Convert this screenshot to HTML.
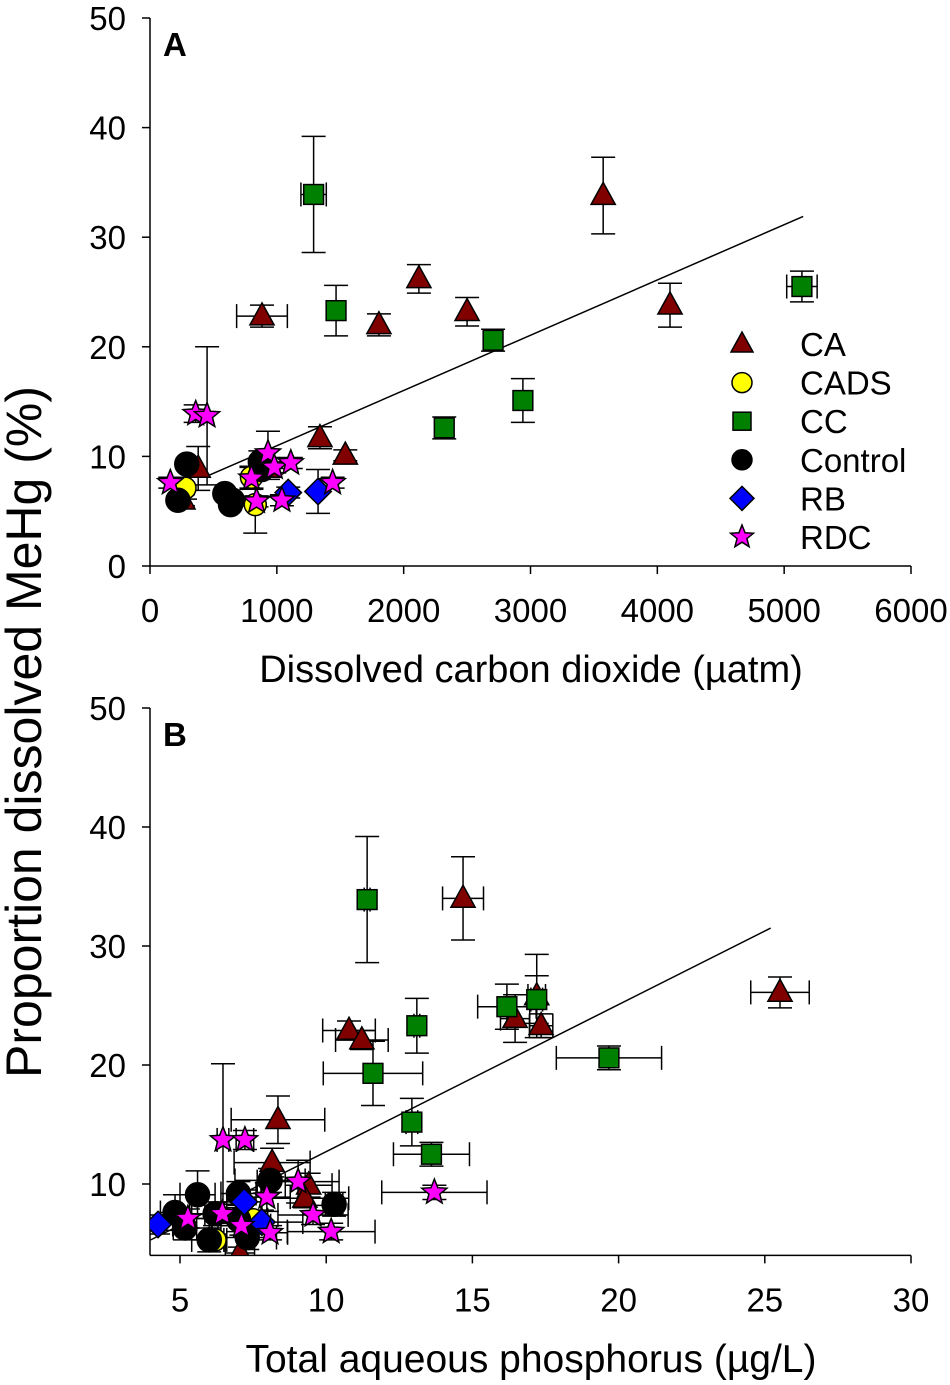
<!DOCTYPE html>
<html><head><meta charset="utf-8"><style>
html,body{margin:0;padding:0;background:#fff}
svg{display:block;font-family:"Liberation Sans",Arial,sans-serif}
</style></head><body>
<svg id="chart" width="950" height="1385" viewBox="0 0 950 1385">
<text x="28" y="732" font-size="50" text-anchor="middle" transform="rotate(-90 28 732)" dominant-baseline="middle">Proportion dissolved MeHg (%)</text>
<text x="531" y="682" font-size="38" text-anchor="middle">Dissolved carbon dioxide (µatm)</text>
<text x="531" y="1372" font-size="39" text-anchor="middle">Total aqueous phosphorus (µg/L)</text>
<text x="163" y="56" font-size="33" font-weight="bold">A</text>
<text x="163" y="746" font-size="33" font-weight="bold">B</text>
<defs><clipPath id="clipB"><rect x="150" y="700" width="762" height="555"/></clipPath></defs>
<g id="gA"></g>
<g id="gB"></g>
<g id="legend"></g>
</svg>
<script>
// Panel A data: [x, y, xerr, yerr]
const caA = [[883,22.8,200,1],[2120,26.2,0,1.3],[2500,23.2,0,1.3],[1805,22.0,0,1],[3573,33.8,0,3.5],[4100,23.8,0,2],[1340,11.7,0,1],[1540,10.1,0,0.5],[380,8.9,0,2],[260,6.0,0,0.5],[930,8.9,0,1]];
const cadsA = [[276,7.1,0,1],[800,8.1,0,1],[830,5.6,0,2.6]];
const ccA = [[1290,33.9,100,5.3],[1467,23.3,0,2.3],[2705,20.6,0,1],[2320,12.6,0,1],[2940,15.1,0,2],[5140,25.5,120,1.4]];
const ctlA = [[290,9.3,0,0],[220,6.0,0,0],[590,6.6,0,0],[650,6.0,0,0],[635,5.6,0,0],[870,9.5,0,1],[880,8.8,0,0]];
const rbA = [[1090,6.7,0,0.5],[1325,6.8,0,2]];
const rdcA = [[160,7.6,0,0.5],[360,13.9,0,0.8],[450,13.7,0,6.3],[840,5.9,0,0.5],[930,10.3,0,2],[980,9.0,0,0.5],[1040,6.0,0,0.5],[1110,9.4,0,0.5],[1440,7.6,0,0.5],[800,8.0,0,1]];
const regA = [430, 5150, 0.005042, 5.93];
const xTicksA = [0,1000,2000,3000,4000,5000,6000];
const yTicksA = [0,10,20,30,40,50];
// Panel B data
const caB = [[14.68,34.0,0.7,3.5],[25.52,26.1,1.0,1.3],[17.2,25.8,0.3,3.5],[16.46,23.9,0.5,2],[17.35,23.3,0.4,1],[10.78,22.9,0.9,0.8],[11.22,22.1,0.9,0.8],[8.35,15.4,1.6,2],[8.15,11.8,1.3,1.2],[9.4,9.9,0.8,1],[9.27,8.8,1.5,0.8],[7.05,4.2,0.5,0.5]];
const cadsB = [[6.2,5.3,0.3,0.5],[7.5,7.0,0.3,0.5]];
const ccB = [[11.4,33.9,0.1,5.3],[13.1,23.3,0.1,2.3],[16.18,24.9,1.0,1.9],[17.2,25.5,0.2,2],[11.6,19.3,1.7,2.7],[19.67,20.6,1.8,1],[12.93,15.2,0.2,2],[13.6,12.5,1.3,1]];
const ctlB = [[10.27,8.3,0.3,1],[8.08,10.3,1.2,1],[5.6,9.1,0.6,2],[4.83,7.6,0.5,1.5],[5.17,6.3,0.4,1],[6.0,5.3,0.6,1],[7.0,7.0,1.0,1],[7.0,9.2,0.6,1],[7.3,5.5,1.0,1],[6.2,7.5,0.8,1]];
const rbB = [[4.25,6.6,0.5,0.8],[7.2,8.5,0.6,1],[7.8,6.8,1.4,1]];
const rdcB = [[6.47,13.7,0.2,6.4],[7.22,13.7,0.3,0.8],[9.04,10.2,1.4,1.8],[13.7,9.3,1.8,0.6],[10.17,6.0,1.5,0.7],[9.55,7.4,1.2,0.8],[8.08,5.9,0.6,0.6],[7.97,8.9,0.8,1.2],[6.45,7.5,0.6,0.8],[5.27,7.1,0.8,0.8],[7.1,6.5,1.0,0.8]];
const regB = [4, 25.2, 1.236, 0.36];
const xTicksB = [5,10,15,20,25,30];
const yTicksB = [10,20,30,40,50];
const seriesNames = ['CA','CADS','CC','Control','RB','RDC'];

const NS='http://www.w3.org/2000/svg';
function mk(tag, attrs, parent){const e=document.createElementNS(NS,tag);for(const k in attrs)e.setAttribute(k,attrs[k]);parent.appendChild(e);return e;}
const styles={
 CA:{shape:'tri',fill:'#800000'},CADS:{shape:'circ',fill:'#ffff00'},CC:{shape:'sq',fill:'#008000'},
 Control:{shape:'circ',fill:'#000000'},RB:{shape:'dia',fill:'#0000ff'},RDC:{shape:'star',fill:'#ff00ff'}};
function marker(shape, cx, cy, s, fill, parent){
 let e;
 if(shape==='circ') e=mk('circle',{cx:cx,cy:cy,r:s*0.5},parent);
 else if(shape==='sq') e=mk('rect',{x:cx-s*0.45,y:cy-s*0.45,width:s*0.9,height:s*0.9},parent);
 else if(shape==='tri') e=mk('polygon',{points:`${cx},${cy-s*0.6} ${cx+s*0.55},${cy+s*0.4} ${cx-s*0.55},${cy+s*0.4}`},parent);
 else if(shape==='dia') e=mk('polygon',{points:`${cx},${cy-s*0.6} ${cx+s*0.6},${cy} ${cx},${cy+s*0.6} ${cx-s*0.6},${cy}`},parent);
 else { let p=[];for(let i=0;i<10;i++){const r=i%2?s*0.26:s*0.6;const a=-Math.PI/2+i*Math.PI/5;p.push((cx+r*Math.cos(a)).toFixed(1)+','+(cy+r*Math.sin(a)).toFixed(1));} e=mk('polygon',{points:p.join(' ')},parent);}
 e.setAttribute('fill',fill);e.setAttribute('stroke','#000');e.setAttribute('stroke-width','1.5');
 return e;
}
function panel(g, X, Y, x0,x1,y0,y1, xTicks,yTicks, data, reg, clip){
 mk('line',{x1:150,y1:Y(y0),x2:150,y2:Y(y1),stroke:'#000','stroke-width':1.5},g);
 mk('line',{x1:150,y1:Y(y0),x2:911,y2:Y(y0),stroke:'#000','stroke-width':1.5},g);
 xTicks.forEach(t=>{mk('line',{x1:X(t),y1:Y(y0),x2:X(t),y2:Y(y0)+8,stroke:'#000','stroke-width':1.5},g);
  const tx=mk('text',{x:X(t),y:Y(y0)+56,'font-size':33,'text-anchor':'middle'},g);tx.textContent=t;
  
  });
 yTicks.forEach(t=>{mk('line',{x1:142,y1:Y(t),x2:150,y2:Y(t),stroke:'#000','stroke-width':1.5},g);
  const tx=mk('text',{x:126,y:Y(t)+12,'font-size':33,'text-anchor':'end'},g);tx.textContent=t;
  
  });
 const pg=mk('g',{},g); if(clip) pg.setAttribute('clip-path','url(#clipB)');
 const rl=mk('line',{x1:X(reg[0]),y1:Y(reg[3]+reg[2]*reg[0]),x2:X(reg[1]),y2:Y(reg[3]+reg[2]*reg[1]),stroke:'#000','stroke-width':1.5},pg);
 
 
 data.forEach(([name,arr])=>{
  arr.forEach(d=>{
   const cx=X(d[0]),cy=Y(d[1]);
   const eg=mk('g',{stroke:'#000','stroke-width':1.5},pg);
   
   
   if(d[3]>0){const a=Y(d[1]+d[3]),b=Y(d[1]-d[3]);
    mk('line',{x1:cx,y1:a,x2:cx,y2:b},eg);mk('line',{x1:cx-12,y1:a,x2:cx+12,y2:a},eg);mk('line',{x1:cx-12,y1:b,x2:cx+12,y2:b},eg);}
   if(d[2]>0){const a=X(d[0]-d[2]),b=X(d[0]+d[2]);
    mk('line',{x1:a,y1:cy,x2:b,y2:cy},eg);mk('line',{x1:a,y1:cy-12,x2:a,y2:cy+12},eg);mk('line',{x1:b,y1:cy-12,x2:b,y2:cy+12},eg);}
  });
 });
 data.forEach(([name,arr])=>{
  const st=styles[name];
  arr.forEach(d=>{const m=marker(st.shape,X(d[0]),Y(d[1]),name==='Control'?24:22,st.fill,pg);
   
   });
 });
}
const XA=v=>150+v*761/6000, YA=v=>566-v*548/50;
panel(document.getElementById('gA'),XA,YA,0,6000,0,50,xTicksA,yTicksA,
 [['CA',caA],['CADS',cadsA],['CC',ccA],['Control',ctlA],['RB',rbA],['RDC',rdcA]],regA,false);
const XB=v=>180+(v-5)*29.24, YB=v=>1303-v*11.9;
panel(document.getElementById('gB'),XB,YB,4,30,4,50,xTicksB,yTicksB,
 [['CA',caB],['CADS',cadsB],['CC',ccB],['Control',ctlB],['RB',rbB],['RDC',rdcB]],regB,true);
const lg=document.getElementById('legend');
seriesNames.forEach((n,i)=>{
 const y=344+i*38.6;
 const m=marker(styles[n].shape,742,y,20,styles[n].fill,lg);
 
 
 const t=mk('text',{x:800,y:y+12,'font-size':33},lg);t.textContent=n;
 
 
});
</script>
</body></html>
